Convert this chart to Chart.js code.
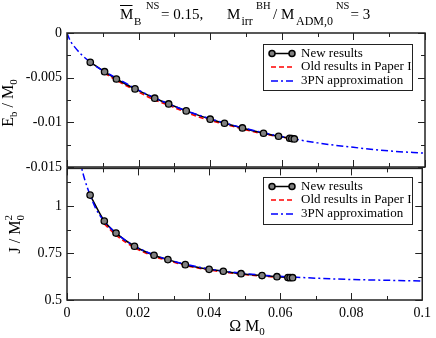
<!DOCTYPE html>
<html>
<head>
<meta charset="utf-8">
<script src="https://cdn.jsdelivr.net/npm/chart.js@4.4.1/dist/chart.umd.min.js"></script>
<style>
  body { margin: 0; background: #fff; }
  #wrap { position: relative; width: 436px; height: 338px; }
  canvas { position: absolute; left: 0; }
</style>
</head>
<body>
<div id="wrap">
  <canvas id="topChart" width="436" height="182" style="top:0"></canvas>
  <canvas id="botChart" width="436" height="183" style="top:155px"></canvas>
</div>
<script>
// values
const omegaNew = [0.0065, 0.0105, 0.0138, 0.0190, 0.0245, 0.0284, 0.0333, 0.0400, 0.0440, 0.0490, 0.0549, 0.0591, 0.0622, 0.0628, 0.0635];
const ebNew = [-0.00328, -0.00433, -0.00515, -0.00626, -0.0073, -0.00794, -0.00872, -0.00965, -0.0101, -0.01063, -0.01122, -0.01156, -0.01178, -0.01182, -0.01186];
const jNew = [1.058, 0.920, 0.856, 0.786, 0.738, 0.715, 0.688, 0.663, 0.653, 0.640, 0.630, 0.624, 0.6195, 0.619, 0.6185];

const omegaOld = [0.0105, 0.0138, 0.0190, 0.0245, 0.0284, 0.0333, 0.0400, 0.0440, 0.0490, 0.0549, 0.0591, 0.0622];
const ebOld = [-0.0045, -0.0053, -0.0064, -0.0075, -0.0081, -0.0089, -0.0098, -0.0102, -0.01075, -0.0113, -0.0116, -0.0118];
const jOld = [0.905, 0.845, 0.778, 0.732, 0.710, 0.684, 0.659, 0.649, 0.637, 0.627, 0.621, 0.617];

const omegaPN = [0, 0.001, 0.002, 0.004, 0.006, 0.008, 0.01, 0.015, 0.02, 0.03, 0.04, 0.05, 0.06, 0.07, 0.08, 0.09, 0.1];
const ebPN = [0, -0.00094, -0.0015, -0.0024, -0.0031, -0.0037, -0.0042, -0.0053, -0.0064, -0.0082, -0.0096, -0.0107, -0.0116, -0.0123, -0.0128, -0.0132, -0.01345];
const omegaPNJ = [0.003, 0.004, 0.005, 0.0065, 0.008, 0.01, 0.0138, 0.019, 0.025, 0.03, 0.04, 0.05, 0.06, 0.07, 0.08, 0.09, 0.1];
const jPN = [1.33, 1.215, 1.14, 1.058, 0.99, 0.93, 0.856, 0.787, 0.737, 0.706, 0.665, 0.641, 0.626, 0.616, 0.609, 0.605, 0.601];

const xTicks = [0, 0.02, 0.04, 0.06, 0.08, 0.1];
const xTickLabels = ['0', '0.02', '0.04', '0.06', '0.08', '0.1'];
const xMinor = [0.01, 0.03, 0.05, 0.07, 0.09];
const eTicks = [0, -0.005, -0.01, -0.015];
const eTickLabels = ['0', '-0.005', '-0.01', '-0.015'];
const eMinor = [-0.0025, -0.0075, -0.0125];
const jTicks = [0.5, 0.75, 1];
const jTickLabels = ['0.5', '0.75', '1'];
const jMinor = [0.625, 0.875, 1.125];

const legendLabels = ['New results', 'Old results in Paper I', '3PN approximation'];

const SERIF = '"Liberation Serif", "Times New Roman", serif';
const BLUE_DASH = [7, 3, 2, 3];
const RED_DASH = [5, 3];

function pts(xs, ys) {
    return xs.map((x, i) => ({ x: x, y: ys[i] }));
}

// draws a run of text pieces; sub/sup pieces can share one x position
function drawRuns(ctx, x, y, parts, measureOnly) {
    let cx = x;
    let pending = 0;
    parts.forEach(p => {
        ctx.font = (p.size || 16) + 'px ' + SERIF;
        const w = ctx.measureText(p.t).width;
        if (!measureOnly) ctx.fillText(p.t, cx, y + (p.dy || 0));
        if (p.keep) {
            pending = Math.max(pending, w);
        } else {
            cx += Math.max(w, pending);
            pending = 0;
        }
    });
    return cx - x;
}

const framePlugin = {
    id: 'frame',
    afterDraw(chart) {
        const o = chart.options.plugins.frame;
        const ctx = chart.ctx;
        const a = chart.chartArea;
        const xs = chart.scales.x, ys = chart.scales.y;
        ctx.save();
        ctx.strokeStyle = '#222';
        ctx.lineWidth = 1.5;
        ctx.setLineDash([]);
        ctx.strokeRect(a.left, a.top, a.right - a.left, a.bottom - a.top);
        ctx.lineWidth = 1;
        ctx.beginPath();
        const tx = (v, len) => {
            const p = Math.round(xs.getPixelForValue(v)) + 0.5;
            ctx.moveTo(p, a.top); ctx.lineTo(p, a.top + len);
            ctx.moveTo(p, a.bottom); ctx.lineTo(p, a.bottom - len);
        };
        const ty = (v, len) => {
            const p = Math.round(ys.getPixelForValue(v)) + 0.5;
            ctx.moveTo(a.left, p); ctx.lineTo(a.left + len, p);
            ctx.moveTo(a.right, p); ctx.lineTo(a.right - len, p);
        };
        xTicks.forEach(v => tx(v, 7));
        xMinor.forEach(v => tx(v, 4));
        o.yMajor.forEach(v => ty(v, 7));
        o.yMinor.forEach(v => ty(v, 4));
        ctx.stroke();

        // legend box
        const L = o.legend;
        ctx.fillStyle = '#fff';
        ctx.fillRect(L.x, L.y, L.w, L.h);
        ctx.strokeStyle = '#222';
        ctx.strokeRect(L.x + 0.5, L.y + 0.5, L.w, L.h);
        const rows = [9.5, 23, 37];
        rows.forEach((dy, i) => {
            const yy = L.y + dy;
            ctx.lineWidth = 1.5;
            ctx.beginPath();
            if (i === 0) { ctx.strokeStyle = '#000'; ctx.setLineDash([]); }
            if (i === 1) { ctx.strokeStyle = '#ff0000'; ctx.setLineDash(RED_DASH); }
            if (i === 2) { ctx.strokeStyle = '#0000ff'; ctx.setLineDash(BLUE_DASH); }
            ctx.moveTo(L.x + 8, yy); ctx.lineTo(L.x + 30, yy);
            ctx.stroke();
            ctx.setLineDash([]);
            if (i === 0) {
                [L.x + 9, L.x + 29].forEach(cx => {
                    ctx.beginPath();
                    ctx.arc(cx, yy, 3, 0, Math.PI * 2);
                    ctx.fillStyle = '#808080';
                    ctx.fill();
                    ctx.strokeStyle = '#000';
                    ctx.stroke();
                });
            }
            ctx.fillStyle = '#000';
            ctx.font = '13px ' + SERIF;
            ctx.textBaseline = 'middle';
            ctx.fillText(legendLabels[i], L.x + 38, yy);
        });

        // axis titles
        ctx.fillStyle = '#000';
        ctx.strokeStyle = '#000';
        ctx.textBaseline = 'alphabetic';
        const yt = o.yTitle;
        const w = drawRuns(ctx, 0, 0, yt.parts, true);
        ctx.save();
        ctx.translate(yt.x, (a.top + a.bottom) / 2 + (yt.shift || 0));
        ctx.rotate(-Math.PI / 2);
        drawRuns(ctx, -w / 2, 0, yt.parts);
        ctx.restore();
        if (o.xTitle) {
            const xt = o.xTitle;
            const wx = drawRuns(ctx, 0, 0, xt.parts, true);
            drawRuns(ctx, xt.cx - wx / 2, xt.y, xt.parts);
        }
        if (o.title) {
            o.title.forEach(p => {
                ctx.font = p.size + 'px ' + SERIF;
                ctx.fillText(p.t, p.x, p.y);
            });
            ctx.lineWidth = 1;
            ctx.beginPath();
            ctx.moveTo(120, 5.5); ctx.lineTo(132.5, 5.5);
            ctx.stroke();
        }
        ctx.restore();
    }
};

function yScale(min, max, ticks, labels) {
    return {
        type: 'linear', min: min, max: max,
        grid: { display: false, drawTicks: false },
        border: { display: false },
        afterFit: s => { s.width = 67; },
        afterBuildTicks: s => { s.ticks = ticks.map(v => ({ value: v })); },
        ticks: {
            autoSkip: false, padding: 5, color: '#000',
            font: { family: SERIF, size: 14 },
            callback: (v, i) => labels[i]
        }
    };
}

function datasets(ebN, oO, yO, oP, yP, xNew) {
    return [
        { data: pts(xNew, ebN), showLine: false, pointRadius: 3.2, pointBackgroundColor: '#808080',
          pointBorderColor: '#000', pointBorderWidth: 1.3, order: 0 },
        { data: pts(oP, yP), showLine: true, borderColor: '#0000ff', borderWidth: 1.5, borderDash: BLUE_DASH,
          pointRadius: 0, cubicInterpolationMode: 'monotone', order: 1 },
        { data: pts(xNew, ebN), showLine: true, borderColor: '#000', borderWidth: 1.5, pointRadius: 0,
          cubicInterpolationMode: 'monotone', order: 2 },
        { data: pts(oO, yO), showLine: true, borderColor: '#ff0000', borderWidth: 1.5, borderDash: RED_DASH,
          pointRadius: 0, cubicInterpolationMode: 'monotone', order: 3 }
    ];
}

const common = {
    responsive: false,
    animation: false,
    events: []
};

new Chart(document.getElementById('topChart'), {
    type: 'scatter',
    data: { datasets: datasets(ebNew, omegaOld, ebOld, omegaPN, ebPN, omegaNew) },
    options: Object.assign({}, common, {
        layout: { padding: { left: 0, right: 11, top: 33, bottom: 15 } },
        scales: {
            x: { type: 'linear', min: 0, max: 0.1, display: false },
            y: yScale(-0.015, 0, eTicks, eTickLabels)
        },
        plugins: {
            legend: { display: false }, tooltip: { enabled: false },
            frame: {
                yMajor: eTicks, yMinor: eMinor,
                legend: { x: 263, y: 44, w: 149, h: 46 },
                yTitle: { x: 13, shift: 3, parts: [
                    { t: 'E', size: 16 }, { t: 'b', size: 11, dy: 4 },
                    { t: ' / M', size: 16 }, { t: '0', size: 11, dy: 4 }] },
                title: [
                    { t: 'M', size: 15, x: 120, y: 18.5 },
                    { t: 'B', size: 11, x: 134, y: 24.5 },
                    { t: 'NS', size: 10.5, x: 146, y: 9 },
                    { t: '= 0.15,', size: 15, x: 161, y: 18.5 },
                    { t: 'M', size: 15, x: 227, y: 18.5 },
                    { t: 'irr', size: 12, x: 241.5, y: 24.5 },
                    { t: 'BH', size: 10.5, x: 256, y: 9 },
                    { t: '/ M', size: 15, x: 273, y: 18.5 },
                    { t: 'ADM,0', size: 12, x: 296, y: 24.5 },
                    { t: 'NS', size: 10.5, x: 336, y: 9 },
                    { t: '= 3', size: 15, x: 350.5, y: 18.5 }
                ]
            }
        }
    }),
    plugins: [framePlugin]
});

new Chart(document.getElementById('botChart'), {
    type: 'scatter',
    data: { datasets: datasets(jNew, omegaOld, jOld, omegaPNJ, jPN, omegaNew) },
    options: Object.assign({}, common, {
        layout: { padding: { left: 0, right: 11, top: 12, bottom: 0 } },
        scales: {
            x: {
                type: 'linear', min: 0, max: 0.1,
                grid: { display: false, drawTicks: false },
                border: { display: false },
                afterFit: s => { s.height = 38; },
                afterBuildTicks: s => { s.ticks = xTicks.map(v => ({ value: v })); },
                ticks: {
                    autoSkip: false, maxRotation: 0, padding: 5, color: '#000',
                    font: { family: SERIF, size: 14 },
                    callback: (v, i) => xTickLabels[i]
                }
            },
            y: yScale(0.5, 1.2, jTicks, jTickLabels)
        },
        plugins: {
            legend: { display: false }, tooltip: { enabled: false },
            frame: {
                yMajor: jTicks, yMinor: jMinor,
                legend: { x: 263, y: 22, w: 149, h: 47 },
                yTitle: { x: 20, shift: 0, parts: [
                    { t: 'J / M', size: 16 }, { t: '0', size: 11, dy: 4, keep: true },
                    { t: '2', size: 11, dy: -8 }] },
                xTitle: { cx: 247, y: 176, parts: [
                    { t: '\u03A9 M', size: 16 }, { t: '0', size: 11, dy: 4 }] }
            }
        }
    }),
    plugins: [framePlugin]
});
</script>
</body>
</html>
